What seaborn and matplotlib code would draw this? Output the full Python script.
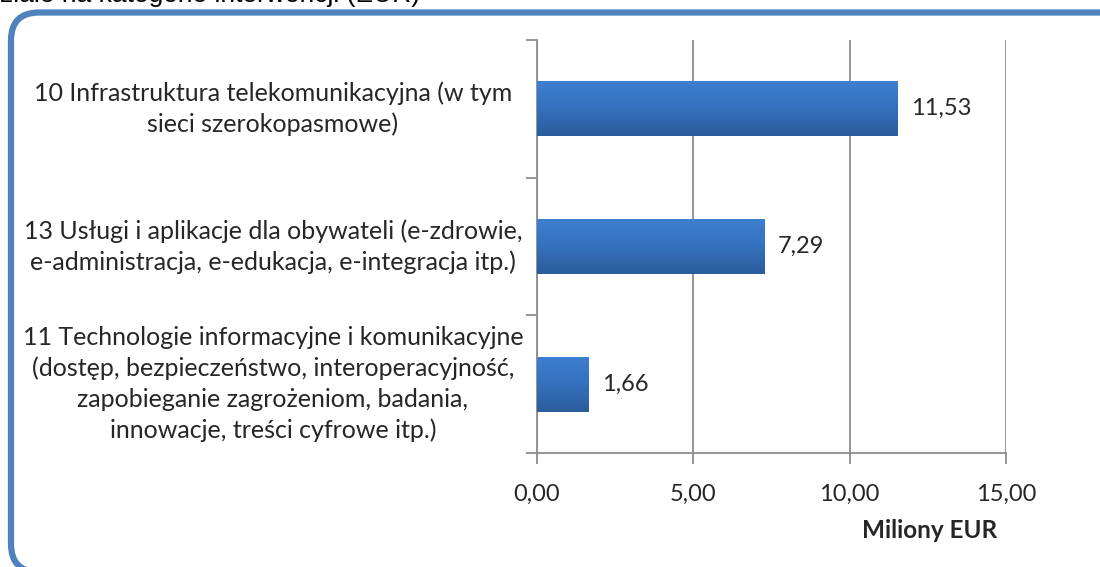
import matplotlib
matplotlib.use("Agg")
import matplotlib.pyplot as plt
import matplotlib.transforms as mtransforms
import seaborn as sns
import pandas as pd
import numpy as np
from matplotlib.patches import FancyBboxPatch
from matplotlib.colors import LinearSegmentedColormap
from matplotlib.ticker import FuncFormatter, FixedLocator

categories = [
    "10 Infrastruktura telekomunikacyjna (w tym\nsieci szerokopasmowe)",
    "13 Usługi i aplikacje dla obywateli (e-zdrowie,\ne-administracja, e-edukacja, e-integracja itp.)",
    "11 Technologie informacyjne i komunikacyjne\n(dostęp, bezpieczeństwo, interoperacyjność,\nzapobieganie zagrożeniom, badania,\ninnowacje, treści cyfrowe itp.)",
]
values = [11.53, 7.29, 1.66]
value_labels = ["11,53", "7,29", "1,66"]
x_ticks = [0, 5, 10, 15]
x_label = "Miliony EUR"
title_fragment = "ziale na kategorie interwencji (EUR)"

sns.set_theme(style="white")
plt.rcParams["font.family"] = ["Lato", "DejaVu Sans"]

W, H = 1100, 567
DPI = 100
fig = plt.figure(figsize=(W / DPI, H / DPI), dpi=DPI)

# rounded frame drawn in figure-pixel coordinates (origin bottom-left)
frame = FancyBboxPatch((11, H - 572), 1118, 559.5,
                       boxstyle="round,pad=0,rounding_size=28",
                       fill=False, edgecolor="#4F81BD", linewidth=4.5,
                       transform=mtransforms.Affine2D().scale(1.0 / W, 1.0 / H) + fig.transFigure,
                       zorder=0)
fig.patches.append(frame)

# title fragment clipped at the top
fig.text(0.0, 1 + 5 / H, title_fragment, fontsize=19, ha="left", va="center",
         color="black", family=["Liberation Sans", "DejaVu Sans"])

ax = fig.add_axes([537 / W, 1 - 453 / H, (1006 - 537) / W, (453 - 40) / H], zorder=2)
ax.patch.set_alpha(0)

df = pd.DataFrame({"cat": categories, "val": values})
sns.barplot(data=df, x="val", y="cat", orient="h", ax=ax, color="#3670BC",
            width=0.4, saturation=1, zorder=3)

ax.set_xlim(0, 15)
ax.set_ylim(2.5, -0.5)

# gradient fill for bars
cmap = LinearSegmentedColormap.from_list("bar", ["#3D7FD0", "#3571BE", "#2C5C9C"])
grad = np.linspace(0, 1, 64).reshape(-1, 1)
for p in list(ax.patches):
    x0, y0 = p.get_x(), p.get_y()
    w, h = p.get_width(), p.get_height()
    p.set_edgecolor("none")
    im = ax.imshow(grad, cmap=cmap, aspect="auto", extent=(x0, x0 + w, y0 + h, y0),
                   zorder=4, interpolation="bilinear")
    im.set_clip_path(p)

ax.set_xlim(0, 15)
ax.set_ylim(2.5, -0.5)
ax.xaxis.set_major_locator(FixedLocator(x_ticks))
ax.xaxis.set_major_formatter(FuncFormatter(lambda v, _: f"{v:.2f}".replace(".", ",")))
ax.grid(axis="x", color="#8C8C8C", linewidth=1.3, zorder=0)
ax.grid(axis="y", visible=False)

for s in ["top", "right"]:
    ax.spines[s].set_visible(False)
for s in ["left", "bottom"]:
    ax.spines[s].set_color("#8C8C8C")
    ax.spines[s].set_linewidth(1.3)

ax.set_yticks([-0.5, 0.5, 1.5, 2.5])
ax.set_yticklabels([])
ax.tick_params(axis="y", which="major", left=True, length=8, width=1.3, color="#8C8C8C")
ax.tick_params(axis="x", which="major", bottom=True, length=8, width=1.3, color="#8C8C8C",
               labelsize=17, pad=14)

lab_tr = mtransforms.blended_transform_factory(fig.transFigure, ax.transData)
for i, c in enumerate(categories):
    t = fig.text(273 / W, 0, c, transform=lab_tr, ha="center", va="center",
                 fontsize=18, linespacing=1.4, multialignment="center")
    t.set_y(i)

for i, (v, lab) in enumerate(zip(values, value_labels)):
    ax.text(v + 0.42, i, lab, ha="left", va="center", fontsize=17, zorder=5)

ax.set_xlabel("")
ax.set_ylabel("")
fig.text(930 / W, 1 - 530 / H, x_label, ha="center", va="center",
         fontsize=17.5, fontweight="bold")

fig.savefig("out.png", dpi=DPI)
